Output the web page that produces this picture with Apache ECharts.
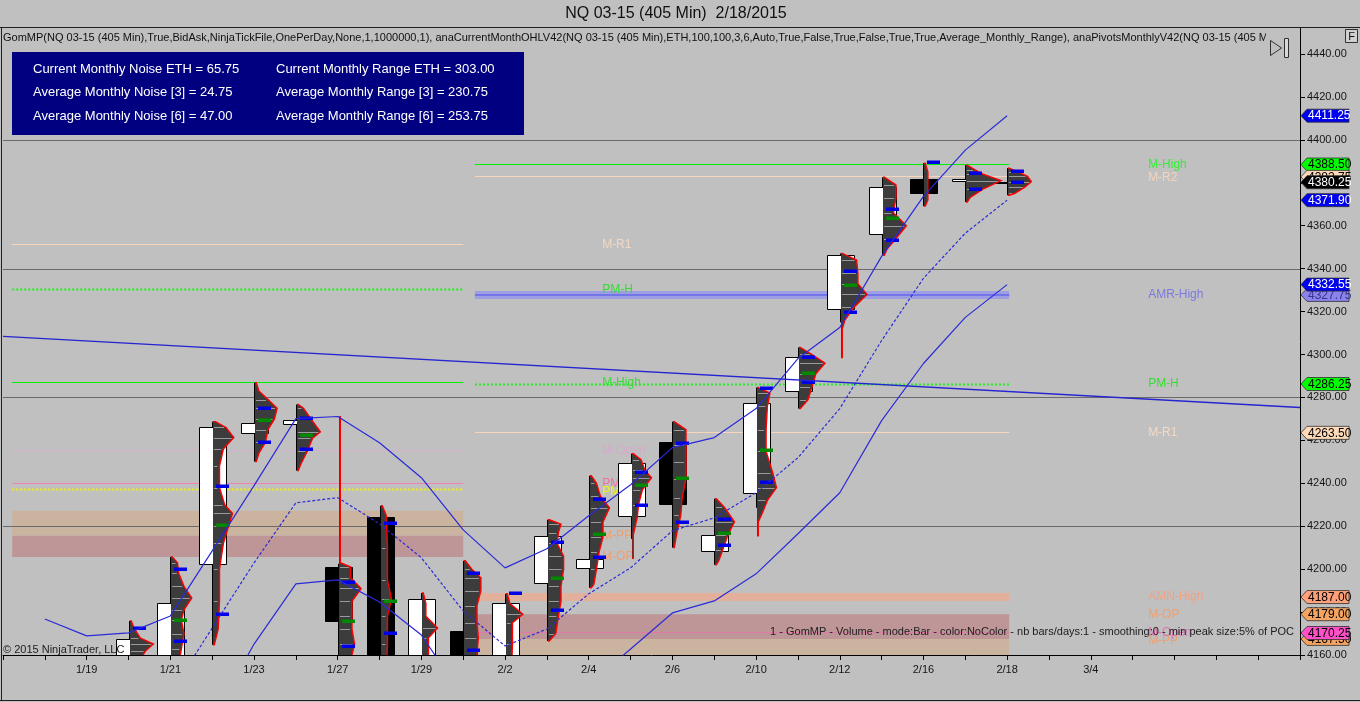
<!DOCTYPE html>
<html><head><meta charset="utf-8">
<script src="https://cdn.jsdelivr.net/npm/echarts@6/dist/echarts.min.js"></script>
<style>html,body{margin:0;padding:0;background:#c0c0c0}#c{width:1360px;height:702px}</style>
</head><body><div id="c"></div><script>
// ---------- DATA ----------
const slotLabelIdx = [0,2,4,6,8,10,12,14,16,18,20,22,24];
const slotLabelTxt = ['1/19','1/21','1/23','1/27','1/29','2/2','2/4','2/6','2/10','2/12','2/16','2/18','3/4'];
const yTickLabels = [4160,4180,4200,4220,4240,4260,4280,4300,4320,4340,4360,4380,4400,4420,4440];

const barSlots = [1,2,3,4,5,6,7,8,9,10,11,12,13,14,15,16,17,18,19,20,21,22];
const barOpen  = [4150,4152,4202.5,4263.6,4267.8,4201.1,4224.4,4150,4171.2,4150,4193.6,4200.6,4224.9,4259.4,4208.5,4235.6,4283.2,4321,4356,4381.7,4380.8,4380.5];
const barClose = [4167.5,4184.3,4266.4,4268.3,4269.7,4175.9,4150,4186.1,4150,4184.3,4215.5,4204.8,4249.6,4230.5,4216,4277.6,4298.6,4346.2,4377.9,4375.1,4381.7,4380.25];
const barLow   = [4145,4148,4164.7,4250.1,4245.9,4150,4145,4145,4145,4148,4166.5,4191.3,4214.1,4210,4202,4228.6,4274.8,4315,4346.2,4369.1,4371,4374.2];
const barHigh  = [4175.9,4205.7,4268.7,4286.9,4276.7,4202.5,4229.5,4188.9,4203.9,4188.5,4223,4243.5,4253.8,4268.7,4232.8,4284.6,4303.3,4347.1,4382.6,4389.1,4388.2,4386.8];

// value area high / low and point of control per bar (null = not visible)
const barVAH = [4172.6,4200.1,4238.9,4275.3,4270.6,4194.1,4221.6,null,4198.3,4188.9,4212.7,4232.8,4245.4,4258.9,4223.5,4284.6,4298.6,4338.7,4367.7,4389.6,4384.5,4385.4];
const barVAL = [null,4166.5,4179.1,4259.4,4256.1,4164.2,4170.3,null,4162.3,null,4181,4205.7,4230,4222,4211.3,4240.7,4287.4,4319.6,4353.2,null,4377,4380.3];
const barPOC = [null,4176.3,4220.7,4269.7,4262.7,4175.9,4185.2,null,null,null,4196,4216.5,4239.3,4242.6,4217,4255.7,4291.6,4332.2,4363.5,null,null,null];

// volume profile of each bar: [price, volume]
const profiles = [
 [[4175.9,1],[4172.6,3],[4167.9,8],[4165.1,18],[4161.9,12],[4158,8],[4150,4]],
 [[4205.7,1],[4203,5],[4198,6],[4192,10],[4186.6,16],[4181,10],[4176.3,8],[4170,10],[4163,8],[4155,6]],
 [[4268.7,2],[4266,10],[4261.3,16],[4256,8],[4248,5],[4238,5],[4230,9],[4226,15],[4220,12],[4212,8],[4200,5],[4185,5],[4172,4],[4164.7,1]],
 [[4286.9,1],[4283,3],[4279,10],[4275,17],[4270,15],[4265,10],[4259,8],[4254,3],[4250.1,1]],
 [[4276.7,1],[4275,5],[4270.6,10],[4264,18],[4261,12],[4255,8],[4249,3],[4245.9,1]],
 [[4271,1],[4203,1],[4201,9],[4196,9],[4191,17],[4185,10],[4178,10],[4172,10],[4165,12],[4155,8]],
 [[4229.5,1],[4225,4],[4210,5],[4195,5],[4186,8],[4178,5],[4165,5],[4150,4]],
 [[4188.9,1],[4184,3],[4178,3],[4172.6,12],[4168,5],[4155,5]],
 [[4203.9,1],[4200,6],[4196,13],[4190,13],[4183,10],[4175,10],[4168,11],[4160,10],[4150,6]],
 [[4188.5,1],[4184,3],[4179,13],[4175,5],[4165,5],[4150,4]],
 [[4223,1],[4221,10],[4217,8],[4212,7],[4206,12],[4200,12],[4192,10],[4185,10],[4178,8],[4170,6],[4166.5,1]],
 [[4243.5,1],[4240,5],[4234,8],[4228.6,15],[4222,10],[4215,10],[4208,7],[4200,5],[4193,3],[4191.3,1]],
 [[4253.8,1],[4251,7],[4246,10],[4242.6,15],[4237,8],[4230,5],[4224,4],[4216,1],[4205,1]],
 [[4268.7,1],[4265,10],[4258,10],[4250,10],[4242,10],[4233,7],[4225,6],[4217,3],[4210,1]],
 [[4232.8,1],[4229,7],[4222,15],[4216,10],[4209,6],[4204,3],[4202,1]],
 [[4284.6,1],[4282,10],[4276,8],[4265,7],[4255,7],[4245,12],[4238,15],[4232,8],[4226,4],[4222,1],[4215.5,1]],
 [[4303.3,1],[4300,10],[4296,20],[4291,13],[4285,10],[4279,7],[4274.8,1]],
 [[4347.1,1],[4344,12],[4338,13],[4333,13],[4328,20],[4322,10],[4316,3],[4312,1],[4298.6,1]],
 [[4382.6,1],[4379,10],[4373,10],[4366,8],[4360,18],[4354,10],[4349,3],[4346.2,1]],
 [[4389.1,1],[4385,3],[4378,3],[4372,3],[4369.1,1]],
 [[4388.2,1],[4386,7],[4384,13],[4381,27],[4377,13],[4373,3],[4371,1]],
 [[4386.8,1],[4385,8],[4383,15],[4380.5,18],[4378,13],[4375,5],[4374.2,1]]
];

// envelope lines (upper solid, middle dashed, lower solid) and long trend line
const upperSlots = [-1,0,1,2,3,4,5,6,7,8,9,10,11,12,13,14,15,16,17,18,19,20,21,22];
const upperVals  = [4176.8,4168.9,4170.3,4178.2,4208.5,4238.9,4270.1,4271.1,4258.9,4242.6,4218.3,4200.6,4209.5,4224.9,4239.3,4256.6,4261.3,4274.8,4298.1,4312.6,4345.7,4373.7,4395.2,4411.25];
const midSlots = [2,3,4,5,6,7,8,9,10,11,12,13,14,15,16,17,18,19,20,21,22];
const midVals  = [4142,4172.6,4202.9,4230.9,4233.3,4221.1,4205.3,4180.5,4164.2,4172.1,4188.5,4200.6,4217.9,4223.9,4235.6,4251.9,4274.8,4306.5,4335.5,4356.5,4371.9];
const lowSlots = [3,4,5,6,7,8,9,10,11,12,13,14,15,16,17,18,19,20,21,22];
const lowVals  = [4130,4165.1,4193.1,4195,4184.7,4169.3,4140.4,4130,4135,4146,4162.8,4179.6,4185.2,4197.8,4216.5,4235.6,4269.2,4295.8,4317.3,4332.55];
const trendSlots = [-2,29];
const trendVals  = [4308.4,4275.3];

const gridValues = [4160,4220,4280,4340,4400];

// monthly levels: January block and February block (bar-index ranges)
const janRange = [-1.78, 9.0];
const febRange = [9.28, 22.05];
const janLineNames = ['M-R1','PM-H','M-High','M-Open','PM-L','PM-C'];
const janLineVals  = [4351.3,4330.3,4286.9,4255.2,4239.8,4237.5];
const janBandTop = [4227.2,4215.5];
const janBandBot = [4215.5,4205.7];
const janBandKind = ['tan','rose'];
const febLineNames = ['M-High','M-R2','AMR-High','PM-H','M-R1','AMN-High','M-Open'];
const febLineVals  = [4388.5,4382.75,4327.75,4286.25,4263.5,4187,4170.25];
const febBandTop = [4179,4167.5];
const febBandBot = [4167.5,4150];
const febBandKind = ['rose','tan'];
const janLabelSlot = 12.32, febLabelSlot = 25.37;
const janLabelNames = ['M-R1','PM-H','M-High','M-Open','PM-L','PM-C','M-PP','M-OP'];
const janLabelVals  = [4351.3,4330.3,4286.9,4255.2,4239.8,4236.3,4215.5,4205.7];
const febLabelNames = ['M-High','M-R2','AMR-High','PM-H','M-R1','AMN-High','M-OP','M-PP','M-Open'];
const febLabelVals  = [4388.5,4382.2,4327.75,4286.25,4263.5,4187,4179,4166.6,4170.25];

// price tags on the right axis
const tagVals  = [4411.25,4388.50,4382.75,4380.25,4371.90,4327.75,4332.55,4286.25,4263.50,4187.00,4179.00,4167.50,4170.25];
const tagKinds = ['blue','green','peach','black','blue','purple','blue','green','peach','salmon','orange','orange','pink'];

// ---------- STYLES ----------
const FONT = '"Liberation Sans", Arial, sans-serif';
const bandFill = {tan:'#cab4a0', rose:'#bf9697'};
const janLineStyle = {
  'M-R1':{stroke:'#f8d6bc',lineWidth:1},
  'PM-H':{stroke:'#22ee22',lineWidth:2,lineDash:[2,2]},
  'M-High':{stroke:'#00f000',lineWidth:1},
  'M-Open':{stroke:'#d4b0cc',lineWidth:1},
  'PM-L':{stroke:'#ee82b4',lineWidth:1},
  'PM-C':{stroke:'#f4f000',lineWidth:2,lineDash:[2,2]}
};
const febLineStyle = {
  'M-High':{stroke:'#00f000',lineWidth:1},
  'M-R2':{stroke:'#f8d6bc',lineWidth:1},
  'AMR-High':{stroke:'rgba(140,140,245,0.65)',lineWidth:8,core:'#7474ea'},
  'PM-H':{stroke:'#22ee22',lineWidth:2,lineDash:[2,2]},
  'M-R1':{stroke:'#f8d6bc',lineWidth:1},
  'AMN-High':{stroke:'rgba(250,165,130,0.6)',lineWidth:8},
  'M-Open':{stroke:'#e27aa8',lineWidth:1}
};
const janLabelColor = {'M-R1':'#f4d8c4','PM-H':'#30e030','M-High':'#30e030','M-Open':'#d8a8cc','PM-L':'#f070a0','PM-C':'#f0f020','M-PP':'#eea070','M-OP':'#eea070'};
const febLabelColor = {'M-High':'#30f030','M-R2':'#f4d4bc','AMR-High':'#7c78e0','PM-H':'#30e030','M-R1':'#f4d8c4','AMN-High':'#f4a080','M-OP':'#eea070','M-PP':'#eea070','M-Open':'#e070b0'};
const tagStyle = {
  blue:['#0000f0','#ffffff'], green:['#00ff00','#000000'], peach:['#ffdab9','#000000'],
  black:['#000000','#ffffff'], purple:['#8c84ec','#34348c'], salmon:['#ffa07a','#000000'],
  orange:['#f4a460','#000000'], pink:['#ff50c8','#000000']
};
const VOL_PX = 1.3;

// ---------- BUILD ----------
const hlines = [];
janLineNames.forEach((n,i)=>hlines.push({x0:janRange[0],x1:janRange[1],v:janLineVals[i],st:janLineStyle[n]}));
febLineNames.forEach((n,i)=>hlines.push({x0:febRange[0],x1:febRange[1],v:febLineVals[i],st:febLineStyle[n]}));
const bands = [];
janBandTop.forEach((t,i)=>bands.push({x0:janRange[0],x1:janRange[1],t:t,b:janBandBot[i],fill:bandFill[janBandKind[i]]}));
febBandTop.forEach((t,i)=>bands.push({x0:febRange[0],x1:febRange[1],t:t,b:febBandBot[i],fill:bandFill[febBandKind[i]]}));
const labels = [];
janLabelNames.forEach((n,i)=>labels.push({x:janLabelSlot,v:janLabelVals[i],t:n,c:janLabelColor[n]}));
febLabelNames.forEach((n,i)=>labels.push({x:febLabelSlot,v:febLabelVals[i],t:n,c:febLabelColor[n]}));
const markers = [];
barSlots.forEach((s,i)=>{
  if(barVAH[i]!=null) markers.push([s,barVAH[i],0]);
  if(barVAL[i]!=null) markers.push([s,barVAL[i],0]);
  if(barPOC[i]!=null) markers.push([s,barPOC[i],1]);
});

function renderBand(params, api){
  const b = bands[params.dataIndex];
  const p0 = api.coord([b.x0,b.t]), p1 = api.coord([b.x1,b.b]);
  return {type:'rect',shape:{x:p0[0],y:p0[1],width:p1[0]-p0[0],height:p1[1]-p0[1]},style:{fill:b.fill}};
}
function renderGrid(params, api){
  const v = gridValues[params.dataIndex];
  const a = api.coord([-2,v]), b = api.coord([29,v]);
  return {type:'rect',shape:{x:a[0],y:Math.round(a[1]),width:b[0]-a[0],height:1},style:{fill:'#6a6a6a'}};
}
function renderHLine(params, api){
  const it = hlines[params.dataIndex];
  const a = api.coord([it.x0,it.v]), b = api.coord([it.x1,it.v]);
  const kids = [];
  if(it.st.lineDash){
    const y = Math.round(a[1])+0.5;
    kids.push({type:'line',shape:{x1:a[0],y1:y,x2:b[0],y2:y},style:{stroke:it.st.stroke,lineWidth:it.st.lineWidth,lineDash:it.st.lineDash}});
  } else {
    const h = it.st.lineWidth;
    kids.push({type:'rect',shape:{x:a[0],y:Math.round(a[1]-h/2),width:b[0]-a[0],height:h},style:{fill:it.st.stroke}});
    if(it.st.core) kids.push({type:'rect',shape:{x:a[0],y:Math.round(a[1])-1,width:b[0]-a[0],height:2},style:{fill:it.st.core}});
  }
  return {type:'group',children:kids};
}
function renderLabel(params, api){
  const l = labels[params.dataIndex];
  const p = api.coord([l.x,l.v]);
  return {type:'text',x:p[0],y:p[1],style:{text:l.t,fill:l.c,font:'12px '+FONT,verticalAlign:'middle',align:'left'}};
}
function renderCandle(params, api){
  const i = params.dataIndex;
  const s = barSlots[i];
  const o = barOpen[i], c = barClose[i];
  const pO = api.coord([s,o]), pC = api.coord([s,c]), pL = api.coord([s,barLow[i]]), pH = api.coord([s,barHigh[i]]);
  const w = Math.round(api.size([1,0])[0]*0.64);
  const cx = Math.round(pO[0])+0.5;
  const top = Math.round(Math.min(pO[1],pC[1]))+0.5, bot = Math.round(Math.max(pO[1],pC[1]))+0.5;
  return {type:'group',children:[
    {type:'line',shape:{x1:cx,y1:pH[1],x2:cx,y2:pL[1]},style:{stroke:'#000',lineWidth:1}},
    {type:'rect',shape:{x:Math.round(cx-w/2)+0.5,y:top,width:w,height:Math.max(bot-top,1)},style:{fill:c>=o?'#ffffff':'#000000',stroke:'#000',lineWidth:1}}
  ]};
}
function renderProfile(params, api){
  const i = params.dataIndex, s = barSlots[i], pts = profiles[i];
  const first = api.coord([s,pts[0][0]]);
  const cx = Math.round(first[0])+1;
  const poly = [[cx, first[1]]];
  const kids = [];
  pts.forEach(pw=>{ const p = api.coord([s,pw[0]]); poly.push([cx+pw[1]*VOL_PX, p[1]]); });
  poly.push([cx, api.coord([s,pts[pts.length-1][0]])[1]]);
  kids.push({type:'polygon',shape:{points:poly},style:{fill:'#3c3c3c',stroke:null}});
  pts.forEach(pw=>{ if(pw[1]>4){ const p = api.coord([s,pw[0]]); const y=Math.round(p[1])+0.5;
    kids.push({type:'line',shape:{x1:cx+1,y1:y,x2:cx+pw[1]*VOL_PX-2,y2:y},style:{stroke:'#9a9a9a',lineWidth:1}}); }});
  kids.push({type:'polyline',shape:{points:poly},style:{fill:null,stroke:'#ff0000',lineWidth:1.4}});
  return {type:'group',children:kids};
}
function renderMarker(params, api){
  const m = markers[params.dataIndex];
  const p = api.coord([m[0],m[1]]);
  const cx = Math.round(p[0]);
  return {type:'rect',shape:{x:cx+4,y:Math.round(p[1])-1.5,width:13,height:3.5},style:{fill:m[2]===0?'#0000e8':'#008a00'}};
}
function renderTag(params, api){
  const i = params.dataIndex;
  const y = api.coord([0,tagVals[i]])[1];
  const x0 = params.coordSys.x + params.coordSys.width;
  const st = tagStyle[tagKinds[i]];
  const h = 6.5;
  return {type:'group',children:[
    {type:'polygon',shape:{points:[[x0+1,y],[x0+7,y-h],[x0+49,y-h],[x0+49,y+h],[x0+7,y+h]]},style:{fill:st[0],stroke:'#303030',lineWidth:0.8}},
    {type:'text',x:x0+8,y:y+0.5,style:{text:tagVals[i].toFixed(2),fill:st[1],font:'12px '+FONT,verticalAlign:'middle',align:'left'}}
  ]};
}

const chart = echarts.init(document.getElementById('c'));
const lineBlue = '#2a2ad8';
chart.setOption({
  animation:false,
  backgroundColor:'#c0c0c0',
  grid:{left:3,right:60,top:28,bottom:47,containLabel:false},
  xAxis:{type:'value',min:-2,max:29,interval:1,
    axisLine:{show:true,onZero:false,lineStyle:{color:'#000',width:1}},
    axisTick:{show:true,length:5,lineStyle:{color:'#000'}},
    axisLabel:{color:'#151515',fontSize:11,fontFamily:FONT,margin:9,
      formatter:v=>{const k=slotLabelIdx.indexOf(Math.round(v)); return (k>=0 && Math.abs(v-Math.round(v))<1e-6)?slotLabelTxt[k]:'';}},
    splitLine:{show:false}},
  yAxis:{type:'value',position:'right',min:4160,max:4452.1,interval:20,
    axisLine:{show:true,onZero:false,lineStyle:{color:'#000',width:1}},
    axisTick:{show:true,length:5,lineStyle:{color:'#000'}},
    axisLabel:{color:'#151515',fontSize:11,fontFamily:FONT,margin:7,showMaxLabel:false,
      formatter:v=>yTickLabels.indexOf(Math.round(v*100)/100)>=0?v.toFixed(2):''},
    splitLine:{show:false}},
  series:[
    {type:'custom',name:'bands',z:1,clip:true,renderItem:renderBand,data:bands.map(b=>[b.x0,b.t])},
    {type:'custom',name:'grid',z:2,clip:true,renderItem:renderGrid,data:gridValues.map(v=>[0,v])},
    {type:'custom',name:'levels',z:3,clip:true,renderItem:renderHLine,data:hlines.map(h=>[h.x0,h.v])},
    {type:'custom',name:'levelLabels',z:4,clip:false,renderItem:renderLabel,data:labels.map(l=>[l.x,l.v])},
    {type:'custom',name:'candles',z:5,clip:true,renderItem:renderCandle,data:barSlots.map((s,i)=>[s,barOpen[i],barClose[i],barLow[i],barHigh[i]])},
    {type:'custom',name:'profiles',z:6,clip:true,renderItem:renderProfile,data:barSlots.map((s,i)=>[s,barHigh[i]])},
    {type:'custom',name:'markers',z:7,clip:true,renderItem:renderMarker,data:markers.map(m=>[m[0],m[1]])},
    {type:'line',name:'upper',z:8,showSymbol:false,symbol:'none',data:upperSlots.map((s,i)=>[s,upperVals[i]]),lineStyle:{color:lineBlue,width:1.2}},
    {type:'line',name:'mid',z:8,showSymbol:false,symbol:'none',data:midSlots.map((s,i)=>[s,midVals[i]]),lineStyle:{color:lineBlue,width:1.2,type:[3,2]}},
    {type:'line',name:'lower',z:8,showSymbol:false,symbol:'none',data:lowSlots.map((s,i)=>[s,lowVals[i]]),lineStyle:{color:lineBlue,width:1.2}},
    {type:'line',name:'trend',z:8,showSymbol:false,symbol:'none',data:trendSlots.map((s,i)=>[s,trendVals[i]]),lineStyle:{color:'#2424d0',width:1.3}},
    {type:'custom',name:'tags',z:20,clip:false,renderItem:renderTag,data:tagVals.map(v=>[0,v])}
  ],
  graphic:[
    {type:'line',z:50,shape:{x1:0,y1:27.5,x2:1360,y2:27.5},style:{stroke:'#202020',lineWidth:1}},
    {type:'line',z:50,shape:{x1:1.5,y1:27,x2:1.5,y2:701},style:{stroke:'#202020',lineWidth:1}},
    {type:'line',z:50,shape:{x1:0,y1:700.5,x2:1360,y2:700.5},style:{stroke:'#202020',lineWidth:1}},
    {type:'text',z:50,x:676,y:14,style:{text:'NQ 03-15 (405 Min)  2/18/2015',font:'16px '+FONT,fill:'#101010',align:'center',verticalAlign:'middle'}},
    {type:'text',z:50,x:3,y:38,style:{text:'GomMP(NQ 03-15 (405 Min),True,BidAsk,NinjaTickFile,OnePerDay,None,1,1000000,1), anaCurrentMonthOHLV42(NQ 03-15 (405 Min),ETH,100,100,3,6,Auto,True,False,True,False,True,True,Average_Monthly_Range), anaPivotsMonthlyV42(NQ 03-15 (405 Min),ETH)',font:'11px '+FONT,fill:'#101010',verticalAlign:'middle',align:'left',width:1295,overflow:'truncate',ellipsis:''}},
    {type:'rect',z:50,shape:{x:12,y:52,width:512,height:83},style:{fill:'#000080'}},
    {type:'text',z:51,x:33,y:69,style:{text:'Current Monthly Noise ETH = 65.75',font:'13px '+FONT,fill:'#ffffff',verticalAlign:'middle'}},
    {type:'text',z:51,x:33,y:92.5,style:{text:'Average Monthly Noise [3] = 24.75',font:'13px '+FONT,fill:'#ffffff',verticalAlign:'middle'}},
    {type:'text',z:51,x:33,y:116.5,style:{text:'Average Monthly Noise [6] = 47.00',font:'13px '+FONT,fill:'#ffffff',verticalAlign:'middle'}},
    {type:'text',z:51,x:276,y:69,style:{text:'Current Monthly Range ETH = 303.00',font:'13px '+FONT,fill:'#ffffff',verticalAlign:'middle'}},
    {type:'text',z:51,x:276,y:92.5,style:{text:'Average Monthly Range [3] = 230.75',font:'13px '+FONT,fill:'#ffffff',verticalAlign:'middle'}},
    {type:'text',z:51,x:276,y:116.5,style:{text:'Average Monthly Range [6] = 253.75',font:'13px '+FONT,fill:'#ffffff',verticalAlign:'middle'}},
    {type:'rect',z:52,shape:{x:1266,y:33,width:33,height:26},style:{fill:'#c0c0c0'}},
    {type:'polygon',z:53,shape:{points:[[1270.5,40.5],[1270.5,55.5],[1281.5,48]]},style:{fill:'#c0c0c0',stroke:'#303030',lineWidth:1}},
    {type:'rect',z:53,shape:{x:1284.5,y:38.5,width:4,height:19},style:{fill:'#d8d8d8',stroke:'#303030',lineWidth:1}},
    {type:'rect',z:53,shape:{x:1345.5,y:29.5,width:12,height:13},style:{fill:'#d0d0d0',stroke:'#303030',lineWidth:1}},
    {type:'text',z:54,x:1351.5,y:36.5,style:{text:'F',font:'11px '+FONT,fill:'#101010',align:'center',verticalAlign:'middle'}},
    {type:'text',z:50,x:3,y:650,style:{text:'© 2015 NinjaTrader, LLC',font:'11px '+FONT,fill:'#202020',verticalAlign:'middle'}},
    {type:'text',z:50,x:1294,y:632,style:{text:'1 - GomMP - Volume - mode:Bar - color:NoColor - nb bars/days:1 - smoothing:0 - min peak size:5% of POC',font:'11px '+FONT,fill:'#202020',verticalAlign:'middle',align:'right'}}
  ]
});
</script></body></html>
